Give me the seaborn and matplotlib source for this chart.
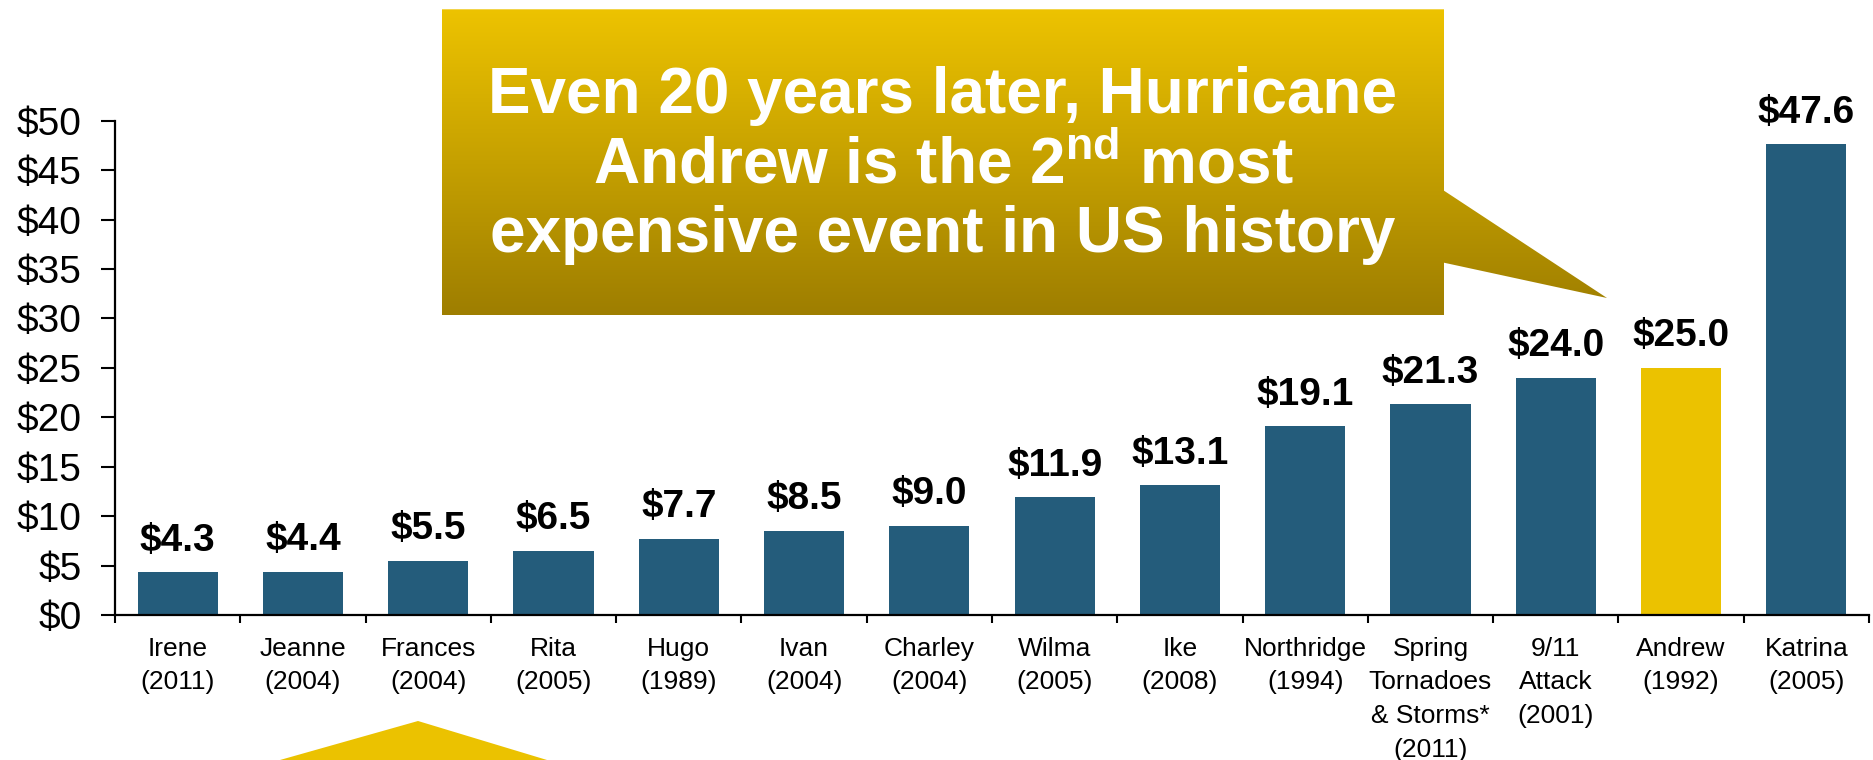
import numpy as np
import pandas as pd
import matplotlib
matplotlib.use("Agg")
import matplotlib.pyplot as plt
from matplotlib.patches import Polygon
from matplotlib.colors import LinearSegmentedColormap
from matplotlib.ticker import FixedLocator
import seaborn as sns

# ---- data: insured losses ($ billions) ----
events = ["Irene", "Jeanne", "Frances", "Rita", "Hugo", "Ivan", "Charley",
          "Wilma", "Ike", "Northridge", "Spring\nTornadoes\n& Storms*",
          "9/11\nAttack", "Andrew", "Katrina"]
years = ["2011", "2004", "2004", "2005", "1989", "2004", "2004",
         "2005", "2008", "1994", "2011", "2001", "1992", "2005"]
losses = [4.3, 4.4, 5.5, 6.5, 7.7, 8.5, 9.0, 11.9, 13.1, 19.1, 21.3, 24.0, 25.0, 47.6]
highlight = "Andrew"
y_ticks = list(range(0, 55, 5))
callout_lines = ["Even 20 years later, Hurricane",
                 r"Andrew is the $2^{\mathrm{nd}}$ most",
                 "expensive event in US history"]

# ---- style ----
BLUE = "#245C7B"
GOLD = "#EBC200"
GOLD_DARK = "#9E7E00"

sns.set_style("white")
plt.rcParams["font.family"] = ["Liberation Sans", "DejaVu Sans"]
plt.rcParams["mathtext.fontset"] = "custom"
plt.rcParams["mathtext.rm"] = "Liberation Sans:bold"
plt.rcParams["mathtext.bf"] = "Liberation Sans:bold"
plt.rcParams["mathtext.it"] = "Liberation Sans:bold"

W, H = 1874, 760
fig = plt.figure(figsize=(W / 100, H / 100), dpi=100)
fig.patch.set_facecolor("white")

ax = fig.add_axes([115 / W, 1 - 615 / H, (1869 - 115) / W, (615 - 120.7) / H])

labels = [f"{e}\n({y})" for e, y in zip(events, years)]
df = pd.DataFrame({"label": labels, "event": events, "loss": losses})
palette = {lab: (GOLD if ev == highlight else BLUE) for lab, ev in zip(labels, events)}

sns.barplot(data=df, x="label", y="loss", hue="label", palette=palette,
            legend=False, width=0.64, saturation=1, linewidth=0, ax=ax)

ax.set_xlim(-0.5, len(labels) - 0.5)
ax.set_ylim(0, 50)
ax.set_xlabel("")
ax.set_ylabel("")

# value labels above each bar
for i, v in enumerate(losses):
    ax.annotate(f"${v:.1f}", xy=(i, v), xytext=(0, 15.5), textcoords="offset points",
                ha="center", va="baseline", fontsize=28, fontweight="bold", color="black")

# axes, ticks
for side in ("top", "right"):
    ax.spines[side].set_visible(False)
for side in ("left", "bottom"):
    ax.spines[side].set_linewidth(1.6)
    ax.spines[side].set_color("black")

ax.set_yticks(y_ticks)
ax.set_yticklabels([f"${t}" for t in y_ticks])
ax.tick_params(axis="y", which="major", direction="out", length=10, width=1.5,
               pad=14, labelsize=28, colors="black", left=True)

ax.set_xticks(range(len(labels)))
ax.set_xticklabels(labels, linespacing=1.52)
ax.xaxis.set_minor_locator(FixedLocator(np.arange(-0.5, len(labels), 1.0)))
ax.tick_params(axis="x", which="major", length=0, pad=15.5, labelsize=19, colors="black",
               bottom=True)
ax.tick_params(axis="x", which="minor", direction="out", length=6, width=1.5,
               color="black", bottom=True)

# ---- callout overlay in figure pixel space ----
ov = fig.add_axes([0, 0, 1, 1], zorder=5)
ov.patch.set_alpha(0)

box_l, box_r, box_t, box_b = 442, 1444, 9.3, 315
tip = (1607, 298)
callout_pts = [(box_l, box_t), (box_r, box_t), (box_r, 190.7), tip,
               (box_r, 262.7), (box_r, box_b), (box_l, box_b)]
shape = Polygon(callout_pts, closed=True, facecolor="none", edgecolor="none")
ov.add_patch(shape)
gold_cmap = LinearSegmentedColormap.from_list("gold_fade", ["#EDC300", GOLD_DARK])
grad = np.linspace(0, 1, 256)[:, None]
im = ov.imshow(grad, cmap=gold_cmap, extent=[box_l, tip[0], box_b, box_t],
               aspect="auto", origin="upper", interpolation="bilinear")
im.set_clip_path(shape)

cx = (box_l + box_r) / 2
for line, base in zip(callout_lines, [113, 183, 252]):
    ov.text(cx, base, line, ha="center", va="baseline", fontsize=46,
            fontweight="bold", color="white")

# pointer of a second callout rising from below
ov.add_patch(Polygon([(418, 721), (547, 760), (280, 760)], closed=True,
                     facecolor=GOLD, edgecolor="none"))

ov.set_xlim(0, W)
ov.set_ylim(H, 0)
ov.axis("off")

fig.savefig("out.png", dpi=100, facecolor="white")
